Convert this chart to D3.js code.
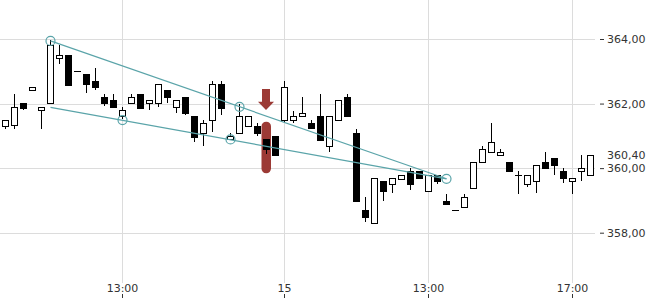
<!DOCTYPE html>
<html>
<head>
<meta charset="utf-8">
<script src="https://cdn.jsdelivr.net/npm/d3@7"></script>
<style>
  body { margin: 0; background: #fff; }
  text { font-family: "DejaVu Sans", sans-serif; font-size: 11px; fill: #333; }
</style>
</head>
<body>
<div id="main"></div>
<script>
// candle values
let opens  = [361.30,361.34,362.02,362.41,361.80,362.01,363.40,363.50,363.01,362.92,362.69,362.20,362.11,361.61,362.01,362.30,362.01,362.01,362.42,361.88,362.20,361.61,361.08,361.49,362.61,360.89,361.08,361.30,361.30,360.89,361.00,361.49,361.48,361.61,361.41,361.61,360.68,361.49,362.19,361.08,358.70,358.29,359.59,359.50,359.68,359.91,359.91,359.28,359.78,358.98,358.69,358.79,359.38,360.18,360.49,360.40,360.18,359.79,359.50,359.59,360.18,360.30,359.91,359.59,359.90,359.78];
let highs  = [361.48,362.29,362.02,362.50,361.88,363.97,363.81,363.50,363.01,362.92,363.11,362.30,362.30,361.88,362.30,362.30,362.10,362.61,362.42,362.10,362.20,361.61,361.49,362.70,362.70,361.08,361.99,361.61,361.39,360.89,361.00,362.70,361.78,362.20,361.49,362.30,361.61,362.11,362.30,361.21,359.11,359.68,359.59,359.68,359.79,359.99,359.91,359.78,359.78,359.20,358.69,359.19,360.18,360.68,361.40,360.58,360.18,359.91,359.78,360.09,360.50,360.30,359.99,359.68,360.41,360.40];
let lows   = [361.21,361.21,361.81,362.41,361.21,362.01,363.22,362.58,363.01,362.32,362.42,361.92,361.88,361.51,362.01,361.88,361.80,361.90,362.03,361.72,361.65,360.82,360.68,361.11,361.65,360.89,361.08,361.30,361.00,360.43,360.40,361.44,361.39,361.61,361.20,360.88,360.51,361.49,361.59,358.96,358.32,358.29,358.98,359.22,359.68,359.31,359.68,359.28,359.52,358.88,358.69,358.79,359.38,360.18,360.49,360.40,359.90,359.20,359.41,359.22,359.99,359.80,359.53,359.20,359.60,359.78];
let closes = [361.48,361.89,361.88,362.50,361.88,363.81,363.50,362.58,363.01,362.60,362.49,362.01,361.88,361.79,362.19,361.88,362.10,362.61,362.19,362.10,361.70,360.97,361.39,362.61,361.88,360.99,361.61,361.61,361.08,360.58,360.40,362.50,361.61,361.70,361.27,360.88,361.61,362.11,361.59,358.96,358.48,359.68,359.27,359.68,359.79,359.50,359.68,359.78,359.60,358.88,358.69,359.10,360.18,360.59,360.80,360.49,359.90,359.79,359.78,360.09,359.99,360.07,359.68,359.68,359.99,360.40];

// price axis
let priceTicks = [358, 360, 362, 364];
let priceLabels = ['358,00', '360,00', '362,00', '364,00'];
let lastLabel = '360,40';

// time axis: candle index and label
let timeTickIndex = [13, 31, 47, 63];
let timeTickLabels = ['13:00', '15', '13:00', '17:00'];

// trend lines [start index, start price, end index, end price]
let upperLine = [5, 363.94, 49, 359.67];
let lowerLine = [5, 361.88, 49, 359.67];
// touch points [index, price]
let touchIndex = [5, 13, 25, 26, 49];
let touchPrice = [363.94, 361.49, 360.89, 361.90, 359.67];

// signal marker on one candle
let markIndex = 29;
let markRange = [359.84, 361.44];
let arrowRange = [361.80, 362.45];

let width = 650, height = 300;
let plotRight = 595;

let svg = d3.select('#main').append('svg')
  .attr('width', width)
  .attr('height', height);

let x = d3.scaleBand()
  .domain(d3.range(opens.length))
  .range([0, plotRight]);

let y = d3.scaleLinear()
  .domain([358, 364])
  .range([232.7, 39]);

function cx(i) { return Math.round(x(i) + x.bandwidth() / 2) + 0.5; }

// grid
let grid = svg.append('g').attr('class', 'grid');
grid.selectAll('line.h')
  .data(priceTicks)
  .enter().append('line')
  .attr('class', 'h')
  .attr('x1', 0).attr('x2', plotRight)
  .attr('y1', d => Math.round(y(d)) + 0.5)
  .attr('y2', d => Math.round(y(d)) + 0.5)
  .attr('stroke', '#dcdcdc');
grid.selectAll('line.v')
  .data(timeTickIndex)
  .enter().append('line')
  .attr('class', 'v')
  .attr('x1', d => cx(d)).attr('x2', d => cx(d))
  .attr('y1', 0).attr('y2', 283)
  .attr('stroke', '#dcdcdc');

// price axis on the right
let yAxis = svg.append('g')
  .attr('transform', 'translate(' + plotRight + ',0)')
  .call(d3.axisRight(y)
    .tickValues(priceTicks)
    .tickSize(0)
    .tickPadding(12)
    .tickFormat((d, i) => priceLabels[i]));
yAxis.select('.domain').remove();
yAxis.selectAll('.tick').append('line')
  .attr('x1', 5).attr('x2', 9)
  .attr('stroke', '#333');
yAxis.selectAll('text').attr('fill', '#333').style('font-size', '11px')
  .style('font-family', '"DejaVu Sans", sans-serif');

// last price label, nudged off the 360 label
let lastY = Math.min(y(closes[closes.length - 1]), y(360) - 10.5);
svg.append('text')
  .attr('x', plotRight + 12)
  .attr('y', lastY)
  .attr('dy', '0.32em')
  .text(lastLabel);

// time axis
let xAxis = svg.append('g');
xAxis.selectAll('text')
  .data(timeTickIndex)
  .enter().append('text')
  .attr('x', d => cx(d))
  .attr('y', 292)
  .attr('text-anchor', 'middle')
  .text((d, i) => timeTickLabels[i]);
xAxis.selectAll('line')
  .data(timeTickIndex)
  .enter().append('line')
  .attr('x1', d => cx(d)).attr('x2', d => cx(d))
  .attr('y1', 294).attr('y2', 298)
  .attr('stroke', '#333');

// red signal bar behind the candles
let red = '#9c3a35';
svg.append('rect')
  .attr('x', cx(markIndex) - 5)
  .attr('width', 9.5)
  .attr('y', y(markRange[1]))
  .attr('height', y(markRange[0]) - y(markRange[1]))
  .attr('rx', 4.7)
  .attr('fill', red);

// arrow pointing down at the signal
let ax = cx(markIndex) - 0.5;
let aTop = y(arrowRange[1]), aTip = y(arrowRange[0]);
let aNeck = aTop + (aTip - aTop) * 0.6;
svg.append('path')
  .attr('d', d3.line()([
    [ax - 4, aTop], [ax + 4, aTop], [ax + 4, aNeck], [ax + 8, aNeck],
    [ax, aTip], [ax - 8, aNeck], [ax - 4, aNeck]
  ]) + 'Z')
  .attr('fill', red);

// candles
let candles = svg.append('g').attr('class', 'candles')
  .selectAll('g')
  .data(d3.range(opens.length))
  .enter().append('g');

candles.append('line')
  .attr('x1', d => cx(d)).attr('x2', d => cx(d))
  .attr('y1', d => Math.round(y(highs[d])))
  .attr('y2', d => Math.round(y(lows[d])))
  .attr('stroke', '#000');

candles.filter(d => Math.abs(opens[d] - closes[d]) >= 0.02)
  .append('rect')
  .attr('x', d => cx(d) - 3)
  .attr('width', 6)
  .attr('y', d => Math.round(y(Math.max(opens[d], closes[d]))) + 0.5)
  .attr('height', d => Math.max(1, Math.round(Math.abs(y(opens[d]) - y(closes[d])))))
  .attr('fill', d => closes[d] > opens[d] ? '#fff' : '#000')
  .attr('stroke', '#000');

// doji: open equals close
candles.filter(d => Math.abs(opens[d] - closes[d]) < 0.02)
  .append('line')
  .attr('x1', d => cx(d) - 3.5).attr('x2', d => cx(d) + 3.5)
  .attr('y1', d => Math.round(y(opens[d])) + 0.5)
  .attr('y2', d => Math.round(y(opens[d])) + 0.5)
  .attr('stroke', '#000');

// trend lines and touch points
let teal = '#5aa4a9';
[upperLine, lowerLine].forEach(function(l) {
  svg.append('line')
    .attr('x1', cx(l[0])).attr('y1', y(l[1]))
    .attr('x2', cx(l[2])).attr('y2', y(l[3]))
    .attr('stroke', teal)
    .attr('stroke-width', 1.2);
});

svg.selectAll('circle.touch')
  .data(touchIndex)
  .enter().append('circle')
  .attr('class', 'touch')
  .attr('cx', d => cx(d))
  .attr('cy', (d, i) => y(touchPrice[i]))
  .attr('r', 4.5)
  .attr('fill', 'none')
  .attr('stroke', teal)
  .attr('stroke-width', 1.2);
</script>
</body>
</html>
